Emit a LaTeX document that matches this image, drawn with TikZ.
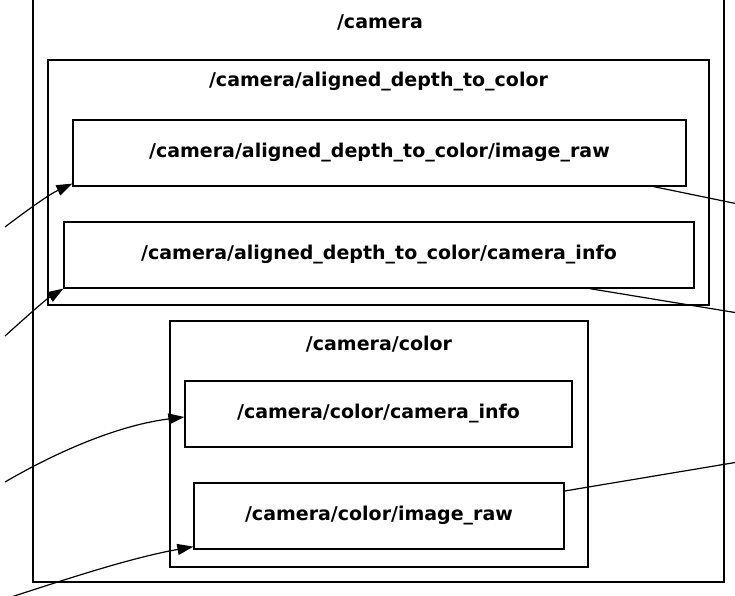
\documentclass[tikz,border=0pt]{standalone}
\usepackage{fontspec}
\setmainfont{DejaVu Sans}
\usetikzlibrary{arrows.meta,calc}
\tikzset{
  topic/.style={draw, line width=1.2pt, rectangle, inner sep=0pt, font=\bfseries\fontsize{19}{22}\selectfont},
  cluster/.style={draw, line width=1.2pt, rectangle, inner sep=0pt},
  ctitle/.style={font=\bfseries\fontsize{19}{22}\selectfont, inner sep=0pt},
  edge/.style={line width=1.2pt, -{Triangle[length=16pt,width=11pt]}},
  plain/.style={line width=1.2pt}
}
\begin{document}
\begin{tikzpicture}[x=1pt,y=-1pt]
\useasboundingbox (0,0) rectangle (735,595);
% clusters
\node[cluster, minimum width=691pt, minimum height=592pt] (cam) at (378.5,286) {};
\node[ctitle] (camt) at (380,22) {/camera};
\node[cluster, minimum width=661pt, minimum height=245pt] (adc) at (378.5,182.5) {};
\node[ctitle] (adct) at (378.5,82) {/camera/aligned\_depth\_to\_color};
\node[cluster, minimum width=418pt, minimum height=246pt] (col) at (379,444) {};
\node[ctitle] (colt) at (379,344) {/camera/color};
% topics
\node[topic, minimum width=613pt, minimum height=66pt] (adcimg) at (379.5,153) {/camera/aligned\_depth\_to\_color/image\_raw};
\node[topic, minimum width=630pt, minimum height=66pt] (adcinfo) at (379,255) {/camera/aligned\_depth\_to\_color/camera\_info};
\node[topic, minimum width=387pt, minimum height=66pt] (colinfo) at (378.5,414) {/camera/color/camera\_info};
\node[topic, minimum width=370pt, minimum height=66pt] (colimg) at (379,516) {/camera/color/image\_raw};
% free ends
\coordinate (in1) at (5,227);
\coordinate (in2) at (5,336);
\coordinate (in3) at (5,482);
\coordinate (in4) at (8,598);
\coordinate (out1) at (738,204);
\coordinate (out2) at (738,313);
\coordinate (out3) at (738,462);
% edges
\draw[edge] (in1) .. controls (30,208) and (50,194) .. ($(adcimg.south west)+(0,-3)$);
\draw[edge] (in2) .. controls (25,318) and (45,300) .. (adcinfo.south west);
\draw[edge] (in3) .. controls (60,450) and (120,425) .. ($(colinfo.west)+(0,3)$);
\draw[edge] (in4) .. controls (70,578) and (130,558) .. ($(colimg.south west)+(0,-3)$);
\draw[plain] ($(adcimg.south east)+(-33,0)$) -- (out1);
\draw[plain] ($(adcinfo.south east)+(-105,0)$) -- (out2);
\draw[plain] ($(colimg.east)+(0,-25)$) -- (out3);
\end{tikzpicture}
\end{document}
